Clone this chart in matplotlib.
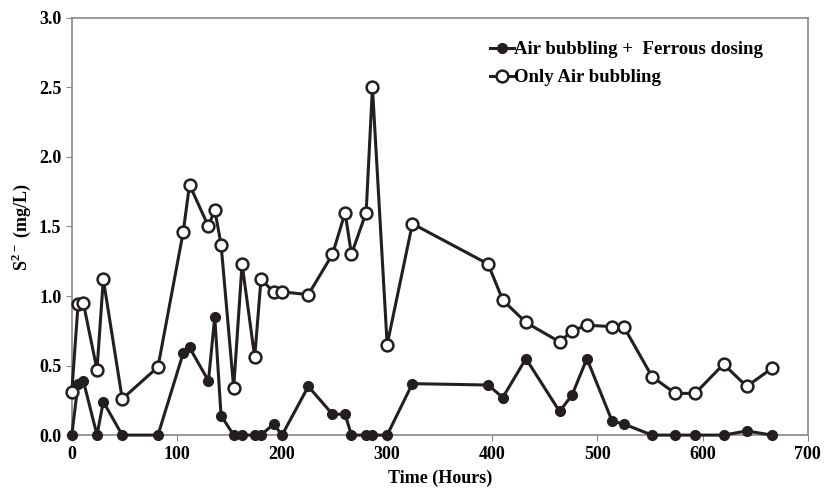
import matplotlib
matplotlib.use('Agg')
import matplotlib.pyplot as plt

# sampling times (hours)
hours = [0, 6, 11, 24, 30, 48, 82, 106, 112, 130, 136, 142, 154, 162, 174, 180,
         192, 200, 225, 248, 260, 266, 280, 286, 300, 324, 396, 410, 432, 464,
         476, 490, 514, 525, 552, 574, 593, 620, 642, 666]

# sulphide with air bubbling + ferrous dosing
ferrous = [0, 0.37, 0.39, 0, 0.24, 0, 0, 0.59, 0.63, 0.39, 0.85, 0.14, 0, 0, 0, 0,
           0.08, 0, 0.35, 0.15, 0.15, 0, 0, 0, 0, 0.37, 0.36, 0.27, 0.55, 0.17,
           0.29, 0.55, 0.10, 0.08, 0, 0, 0, 0, 0.03, 0]

# sulphide with only air bubbling
air_only = [0.31, 0.94, 0.95, 0.47, 1.12, 0.26, 0.49, 1.46, 1.80, 1.50, 1.62, 1.37,
            0.34, 1.23, 0.56, 1.12, 1.03, 1.03, 1.01, 1.30, 1.60, 1.30, 1.60, 2.50,
            0.65, 1.52, 1.23, 0.97, 0.81, 0.67, 0.75, 0.79, 0.78, 0.78, 0.42, 0.30,
            0.30, 0.51, 0.35, 0.48]

plt.rcParams['font.family'] = 'Liberation Serif'
plt.rcParams['font.weight'] = 'bold'
plt.rcParams['mathtext.fontset'] = 'custom'
plt.rcParams['mathtext.rm'] = 'Liberation Serif:bold'
plt.rcParams['mathtext.bf'] = 'Liberation Serif:bold'

col = '#231f20'
fig = plt.figure(figsize=(8.25, 4.95), dpi=100)
ax = fig.add_axes([0.087, 0.121, 0.892, 0.843])

ax.plot(hours, ferrous, color=col, lw=2.2, marker='o', ms=7,
        mfc=col, mec=col, clip_on=False, zorder=3,
        label='Air bubbling +  Ferrous dosing')
ax.plot(hours, air_only, color=col, lw=2.2, marker='o', ms=8.5,
        mfc='white', mec=col, mew=1.8, clip_on=False, zorder=3,
        label='Only Air bubbling')

ax.set_xlim(0, 700)
ax.set_ylim(0, 3.0)
ax.set_xticks(range(0, 701, 100))
ax.set_yticks([0, 0.5, 1.0, 1.5, 2.0, 2.5, 3.0])
ax.set_yticklabels(['0.0', '0.5', '1.0', '1.5', '2.0', '2.5', '3.0'])
ax.tick_params(labelsize=13, length=4, color='#888888', direction='out')
for s in ax.spines.values():
    s.set_color('#888888')
    s.set_linewidth(1.2)

ax.set_xlabel('Time (Hours)', fontsize=13, fontweight='bold', labelpad=5)
ax.set_ylabel('S$^{2-}$ (mg/L)', fontsize=13, fontweight='bold', labelpad=4)

ax.legend(loc='upper left', bbox_to_anchor=(0.545, 0.985), frameon=False,
          fontsize=13.5, handlelength=1.3, handletextpad=0.0, labelspacing=0.6,
          markerscale=1.0)

plt.savefig('out.png', dpi=100)
